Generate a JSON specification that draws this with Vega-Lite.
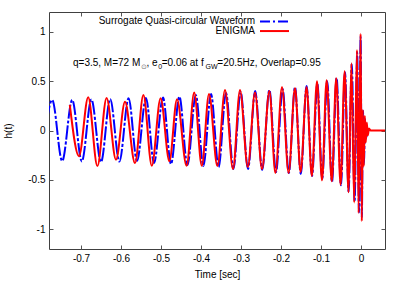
{
  "$schema": "https://vega.github.io/schema/vega-lite/v6.json",
  "width": 336,
  "height": 237,
  "autosize": "none",
  "padding": {"left": 49, "top": 12, "right": 18, "bottom": 33},
  "background": "white",
  "config": {
    "font": "Liberation Sans",
    "view": {"stroke": "#404040", "strokeWidth": 1},
    "axis": {"grid": false, "domain": false, "tickSize": -4, "tickColor": "#555555", "tickWidth": 1,
             "labelFont": "Liberation Sans", "labelFontSize": 10, "labelColor": "#000000",
             "titleFont": "Liberation Sans", "titleFontSize": 10, "titleFontWeight": "normal", "titleColor": "#000000"}
  },
  "datasets": {
    "surrogate": [
      {"t": -0.7965, "h": -0.31}, {"t": -0.772, "h": 0.31}, {"t": -0.747, "h": -0.31}, {"t": -0.722, "h": 0.31},
      {"t": -0.698, "h": -0.313}, {"t": -0.674, "h": 0.315}, {"t": -0.65, "h": -0.32}, {"t": -0.627, "h": 0.32},
      {"t": -0.604, "h": -0.315}, {"t": -0.581, "h": 0.327}, {"t": -0.56, "h": -0.31}, {"t": -0.5375, "h": 0.33},
      {"t": -0.5175, "h": -0.33}, {"t": -0.495, "h": 0.333}, {"t": -0.475, "h": -0.34}, {"t": -0.454, "h": 0.343},
      {"t": -0.434, "h": -0.35}, {"t": -0.413, "h": 0.36}, {"t": -0.394, "h": -0.36}, {"t": -0.375, "h": 0.37},
      {"t": -0.356, "h": -0.37}, {"t": -0.3375, "h": 0.38}, {"t": -0.319, "h": -0.39}, {"t": -0.301, "h": 0.39},
      {"t": -0.2825, "h": -0.39}, {"t": -0.2645, "h": 0.4}, {"t": -0.247, "h": -0.4}, {"t": -0.229, "h": 0.41},
      {"t": -0.2125, "h": -0.42}, {"t": -0.196, "h": 0.42}, {"t": -0.1805, "h": -0.43}, {"t": -0.165, "h": 0.44},
      {"t": -0.1505, "h": -0.44}, {"t": -0.136, "h": 0.45}, {"t": -0.1225, "h": -0.46}, {"t": -0.109, "h": 0.47},
      {"t": -0.097, "h": -0.49}, {"t": -0.0845, "h": 0.5}, {"t": -0.0725, "h": -0.52}, {"t": -0.061, "h": 0.53},
      {"t": -0.05, "h": -0.555}, {"t": -0.04, "h": 0.59}, {"t": -0.031, "h": -0.62}, {"t": -0.023, "h": 0.67},
      {"t": -0.016, "h": -0.72}, {"t": -0.0095, "h": 0.79}, {"t": -0.005, "h": -0.83}, {"t": -0.001, "h": 0.95},
      {"t": 0.002, "h": -0.88}, {"t": 0.005, "h": 0.2}, {"t": 0.0075, "h": -0.34}, {"t": 0.01, "h": 0.12},
      {"t": 0.0125, "h": -0.08}, {"t": 0.016, "h": 0}
    ],
    "enigma": [
      {"t": -0.728, "h": 0.26}, {"t": -0.705, "h": -0.26}, {"t": -0.682, "h": 0.337}, {"t": -0.659, "h": -0.36},
      {"t": -0.636, "h": 0.33}, {"t": -0.6125, "h": -0.296}, {"t": -0.59, "h": 0.29}, {"t": -0.565, "h": -0.33},
      {"t": -0.544, "h": 0.36}, {"t": -0.523, "h": -0.357}, {"t": -0.501, "h": 0.327}, {"t": -0.479, "h": -0.31},
      {"t": -0.46, "h": 0.317}, {"t": -0.436, "h": -0.357}, {"t": -0.417, "h": 0.384}, {"t": -0.398, "h": -0.357},
      {"t": -0.38, "h": 0.37}, {"t": -0.359, "h": -0.36}, {"t": -0.34, "h": 0.41}, {"t": -0.32, "h": -0.39},
      {"t": -0.3025, "h": 0.41}, {"t": -0.283, "h": -0.37}, {"t": -0.265, "h": 0.384}, {"t": -0.2475, "h": -0.39},
      {"t": -0.229, "h": 0.4}, {"t": -0.214, "h": -0.43}, {"t": -0.1975, "h": 0.44}, {"t": -0.181, "h": -0.43},
      {"t": -0.165, "h": 0.43}, {"t": -0.151, "h": -0.42}, {"t": -0.136, "h": 0.44}, {"t": -0.123, "h": -0.46},
      {"t": -0.11, "h": 0.5}, {"t": -0.0975, "h": -0.505}, {"t": -0.086, "h": 0.51}, {"t": -0.073, "h": -0.515},
      {"t": -0.062, "h": 0.53}, {"t": -0.051, "h": -0.55}, {"t": -0.041, "h": 0.6}, {"t": -0.031, "h": -0.626},
      {"t": -0.024, "h": 0.68}, {"t": -0.017, "h": -0.73}, {"t": -0.01, "h": 0.815}, {"t": -0.006, "h": -0.835},
      {"t": -0.001, "h": 0.98}, {"t": 0.002, "h": -0.92}, {"t": 0.0045, "h": 0.21}, {"t": 0.007, "h": -0.36},
      {"t": 0.0095, "h": 0.15}, {"t": 0.012, "h": -0.12}, {"t": 0.0145, "h": 0.08}, {"t": 0.017, "h": -0.05},
      {"t": 0.02, "h": 0.02}, {"t": 0.024, "h": 0}, {"t": 0.07, "h": 0}
    ],
    "one": [{}]
  },
  "resolve": {"axis": {"x": "independent", "y": "independent"}},
  "layer": [
    {
      "data": {"name": "surrogate"},
      "mark": {"type": "line", "interpolate": "monotone", "clip": true, "color": "#0000ff", "strokeWidth": 2, "strokeDash": [14, 2, 3, 2]},
      "encoding": {
        "x": {"field": "t", "type": "quantitative", "scale": {"domain": [-0.78, 0.06], "nice": false, "zero": false},
              "axis": {"orient": "bottom", "values": [-0.7, -0.6, -0.5, -0.4, -0.3, -0.2, -0.1, 0], "format": "~g", "labelExpr": "replace(datum.label, '\u2212', '-')", "labelPadding": 8, "title": "Time [sec]", "titlePadding": 6}},
        "y": {"field": "h", "type": "quantitative", "scale": {"domain": [-1.2, 1.2], "nice": false, "zero": false},
              "axis": {"orient": "left", "values": [-1, -0.5, 0, 0.5, 1], "format": "~g", "labelExpr": "replace(datum.label, '\u2212', '-')", "labelPadding": 8, "title": "h(t)", "titlePadding": 14}}
      }
    },
    {
      "data": {"name": "enigma"},
      "mark": {"type": "line", "interpolate": "monotone", "clip": true, "color": "#ff0000", "strokeWidth": 2},
      "encoding": {
        "x": {"field": "t", "type": "quantitative",
              "axis": {"orient": "top", "values": [-0.7, -0.6, -0.5, -0.4, -0.3, -0.2, -0.1, 0], "labels": false, "title": null}},
        "y": {"field": "h", "type": "quantitative",
              "axis": {"orient": "right", "values": [-1, -0.5, 0, 0.5, 1], "labels": false, "title": null}}
      }
    },
    {
      "data": {"name": "one"},
      "mark": {"type": "text", "text": "Surrogate Quasi-circular Waveform", "align": "right", "baseline": "middle", "fontSize": 10, "color": "#000000"},
      "encoding": {"x": {"datum": -0.265, "type": "quantitative", "axis": null}, "y": {"datum": 1.111, "type": "quantitative", "axis": null}}
    },
    {
      "data": {"name": "one"},
      "mark": {"type": "text", "text": "ENIGMA", "align": "right", "baseline": "middle", "fontSize": 10, "color": "#000000"},
      "encoding": {"x": {"datum": -0.265, "type": "quantitative", "axis": null}, "y": {"datum": 1.007, "type": "quantitative", "axis": null}}
    },
    {
      "data": {"name": "one"},
      "mark": {"type": "rule", "color": "#0000ff", "strokeWidth": 2, "strokeDash": [10, 3, 2, 3]},
      "encoding": {"x": {"datum": -0.2525, "type": "quantitative", "axis": null}, "x2": {"datum": -0.18}, "y": {"datum": 1.105, "type": "quantitative", "axis": null}}
    },
    {
      "data": {"name": "one"},
      "mark": {"type": "rule", "color": "#ff0000", "strokeWidth": 2},
      "encoding": {"x": {"datum": -0.2525, "type": "quantitative", "axis": null}, "x2": {"datum": -0.18}, "y": {"datum": 1.007, "type": "quantitative", "axis": null}}
    },
    {
      "data": {"name": "one"},
      "mark": {"type": "text", "text": "q=3.5, M=72 M", "align": "left", "baseline": "middle", "fontSize": 10, "color": "#000000"},
      "encoding": {"x": {"datum": -0.72, "type": "quantitative", "axis": null}, "y": {"datum": 0.681, "type": "quantitative", "axis": null}}
    },
    {
      "data": {"name": "one"},
      "mark": {"type": "text", "text": "⊙", "align": "left", "baseline": "middle", "fontSize": 7, "color": "#777777", "font": "DejaVu Sans"},
      "encoding": {"x": {"datum": -0.55, "type": "quantitative", "axis": null}, "y": {"datum": 0.64, "type": "quantitative", "axis": null}}
    },
    {
      "data": {"name": "one"},
      "mark": {"type": "text", "text": ", e", "align": "left", "baseline": "middle", "fontSize": 10, "color": "#000000"},
      "encoding": {"x": {"datum": -0.53625, "type": "quantitative", "axis": null}, "y": {"datum": 0.681, "type": "quantitative", "axis": null}}
    },
    {
      "data": {"name": "one"},
      "mark": {"type": "text", "text": "0", "align": "left", "baseline": "middle", "fontSize": 7, "color": "#000000"},
      "encoding": {"x": {"datum": -0.507, "type": "quantitative", "axis": null}, "y": {"datum": 0.646, "type": "quantitative", "axis": null}}
    },
    {
      "data": {"name": "one"},
      "mark": {"type": "text", "text": "=0.06 at f", "align": "left", "baseline": "middle", "fontSize": 10, "color": "#000000"},
      "encoding": {"x": {"datum": -0.49825, "type": "quantitative", "axis": null}, "y": {"datum": 0.681, "type": "quantitative", "axis": null}}
    },
    {
      "data": {"name": "one"},
      "mark": {"type": "text", "text": "GW", "align": "left", "baseline": "middle", "fontSize": 7, "color": "#000000"},
      "encoding": {"x": {"datum": -0.38875, "type": "quantitative", "axis": null}, "y": {"datum": 0.646, "type": "quantitative", "axis": null}}
    },
    {
      "data": {"name": "one"},
      "mark": {"type": "text", "text": "=20.5Hz, Overlap=0.95", "align": "left", "baseline": "middle", "fontSize": 10, "color": "#000000"},
      "encoding": {"x": {"datum": -0.35925, "type": "quantitative", "axis": null}, "y": {"datum": 0.681, "type": "quantitative", "axis": null}}
    }
  ]
}
